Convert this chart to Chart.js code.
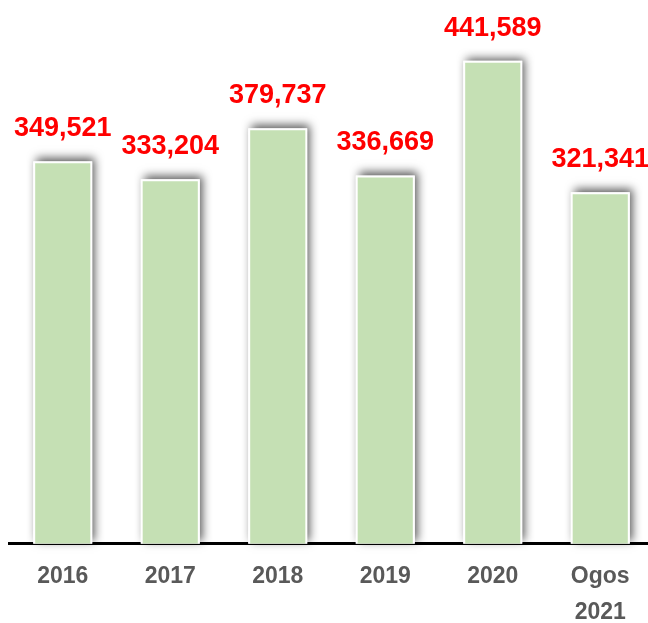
<!DOCTYPE html>
<html lang="ms">
<head>
    <meta charset="UTF-8">
    <title>Bilangan mengikut tahun</title>
    <style>
        html, body { margin: 0; padding: 0; background: #fff; overflow: hidden; }
        #chart-container { width: 654px; height: 638px; position: relative; }
    </style>
</head>
<body>
    <div id="chart-container">
        <canvas id="myChart"></canvas>
    </div>

    <script src="https://cdn.jsdelivr.net/npm/chart.js"></script>
    <script>
        const years = ['2016', '2017', '2018', '2019', '2020', ['Ogos', '2021']];
        const totals = [349521, 333204, 379737, 336669, 441589, 321341];

        // shadow pass under the bars, then red value labels on top
        const barExtras = {
            id: 'barExtras',
            beforeDatasetsDraw(chart) {
                const ctx = chart.ctx;
                ctx.save();
                ctx.shadowColor = 'rgba(0,0,0,0.65)';
                ctx.shadowBlur = 9;
                ctx.shadowOffsetX = 3;
                ctx.shadowOffsetY = -3;
                ctx.fillStyle = '#ffffff';
                chart.getDatasetMeta(0).data.forEach(bar => {
                    const p = bar.getProps(['x', 'y', 'base', 'width'], true);
                    ctx.fillRect(p.x - p.width / 2, p.y, p.width, p.base - p.y);
                });
                ctx.restore();
            },
            afterDatasetsDraw(chart) {
                const ctx = chart.ctx;
                ctx.save();
                ctx.fillStyle = '#ff0000';
                ctx.font = 'bold 27px "Liberation Sans", Arial, sans-serif';
                ctx.textAlign = 'center';
                ctx.textBaseline = 'alphabetic';
                chart.getDatasetMeta(0).data.forEach((bar, i) => {
                    ctx.fillText(totals[i].toLocaleString('en-US'), bar.x, bar.y - 25);
                });
                ctx.restore();
            }
        };

        const ctx = document.getElementById('myChart').getContext('2d');
        new Chart(ctx, {
            type: 'bar',
            data: {
                labels: years,
                datasets: [{
                    data: totals,
                    backgroundColor: '#c5e0b4',
                    borderColor: '#ffffff',
                    borderWidth: 2,
                    borderSkipped: 'bottom',
                    categoryPercentage: 1,
                    barPercentage: 0.55
                }]
            },
            options: {
                responsive: true,
                maintainAspectRatio: false,
                animation: false,
                layout: { padding: { left: 9, right: 0, top: 0, bottom: 0 } },
                plugins: {
                    legend: { display: false },
                    tooltip: { enabled: false }
                },
                scales: {
                    x: {
                        grid: { display: false },
                        border: { display: true, color: '#000000', width: 3 },
                        ticks: {
                            color: '#595959',
                            padding: 7,
                            font: { family: '"Liberation Sans", Arial, sans-serif', size: 23, weight: 'bold', lineHeight: 1.57 }
                        }
                    },
                    y: {
                        display: false,
                        min: 0,
                        max: 497000
                    }
                }
            },
            plugins: [barExtras]
        });
    </script>
</body>
</html>
